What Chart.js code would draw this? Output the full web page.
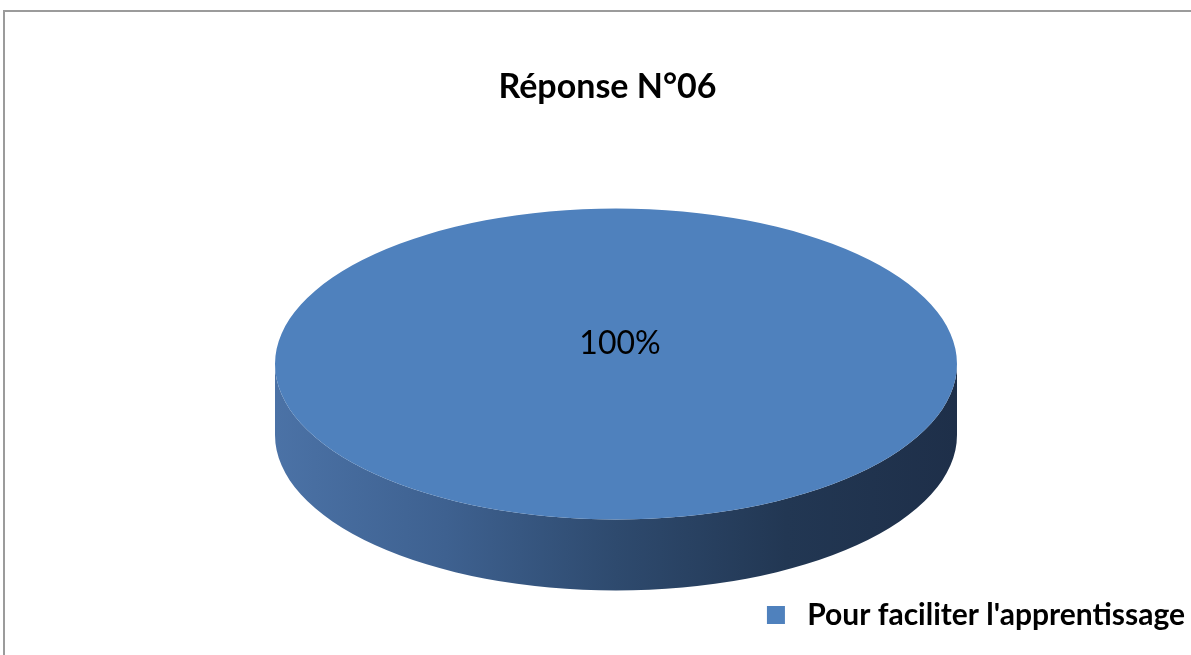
<!DOCTYPE html>
<html>
<head>
<meta charset="utf-8">
<script src="https://cdn.jsdelivr.net/npm/chart.js@4.4.1/dist/chart.umd.min.js"></script>
<style>
html, body { margin: 0; padding: 0; background: #fff; overflow: hidden; }
#frame { position: absolute; left: 3px; top: 10px; width: 1300px; height: 800px; border: 2px solid #9b9b9b; }
#wrap { position: absolute; left: 0; top: 0; width: 1191px; height: 655px; }
</style>
</head>
<body>
<div id="frame"></div>
<div id="wrap"><canvas id="chart" width="1191" height="655"></canvas></div>
<script>
var titleText = 'Réponse N°06';
var categories = ["Pour faciliter l'apprentissage"];
var values = [100];

var tilt = 0.456;  // height / width of the pie's top face
var depth = 71;    // thickness of the pie in px

// fake 3d: draw the side, then squash the flat pie into an ellipse
var pie3d = {
    id: 'pie3d',
    beforeDatasetsDraw: function (chart) {
        var arc = chart.getDatasetMeta(0).data[0];
        var ctx = chart.ctx;
        var cx = arc.x, cy = arc.y, r = arc.outerRadius, ry = r * tilt;
        var grad = ctx.createLinearGradient(cx - r, 0, cx + r, 0);
        grad.addColorStop(0, '#4b72a6');
        grad.addColorStop(0.25, '#3e6190');
        grad.addColorStop(0.5, '#2e4a6e');
        grad.addColorStop(0.75, '#223753');
        grad.addColorStop(1, '#1e2f49');
        ctx.save();
        ctx.beginPath();
        ctx.ellipse(cx, cy, r, ry, 0, Math.PI, 0, true);
        ctx.lineTo(cx + r, cy + depth);
        ctx.ellipse(cx, cy + depth, r, ry, 0, 0, Math.PI, false);
        ctx.closePath();
        ctx.fillStyle = grad;
        ctx.fill();
        ctx.restore();

        ctx.save();
        ctx.translate(cx, cy);
        ctx.scale(1, tilt);
        ctx.translate(-cx, -cy);
    },
    afterDatasetsDraw: function (chart) {
        var ctx = chart.ctx;
        ctx.restore();
        var arc = chart.getDatasetMeta(0).data[0];
        var total = values.reduce(function (a, b) { return a + b; }, 0);
        var pct = Math.round(values[0] / total * 100) + '%';
        ctx.save();
        ctx.font = '32px Lato';
        ctx.fillStyle = '#000';
        ctx.textAlign = 'center';
        ctx.textBaseline = 'middle';
        ctx.fillText(pct, arc.x + 4, arc.y - arc.outerRadius * tilt * 0.13);
        ctx.restore();
    },
    // title drawn here: in the original it sits a bit left of the pie's centre
    afterDraw: function (chart) {
        var ctx = chart.ctx;
        ctx.save();
        ctx.font = 'bold 34px Lato';
        ctx.fillStyle = '#000';
        ctx.textAlign = 'center';
        ctx.textBaseline = 'middle';
        ctx.fillText(titleText, chart.width / 2 + 12, 87);
        ctx.restore();
    }
};

new Chart(document.getElementById('chart'), {
    type: 'pie',
    data: {
        labels: categories,
        datasets: [{
            data: values,
            backgroundColor: ['#4F81BD'],
            borderWidth: 0,
            radius: 341,
            clip: false
        }]
    },
    options: {
        responsive: false,
        animation: false,
        events: [],
        layout: { padding: { left: 41, right: 0, top: 134, bottom: 15 } },
        plugins: {
            title: { display: false },
            legend: {
                position: 'bottom',
                align: 'end',
                labels: {
                    color: '#000',
                    font: { family: 'Lato', size: 30, weight: 'bold' },
                    boxWidth: 18,
                    boxHeight: 18,
                    padding: 6,
                    generateLabels: function (chart) {
                        return chart.data.labels.map(function (l, i) {
                            return { text: ' ' + l, fillStyle: '#4F81BD', strokeStyle: '#4F81BD', lineWidth: 0, index: i };
                        });
                    }
                }
            },
            tooltip: { enabled: false }
        }
    },
    plugins: [pie3d]
});
</script>
</body>
</html>
